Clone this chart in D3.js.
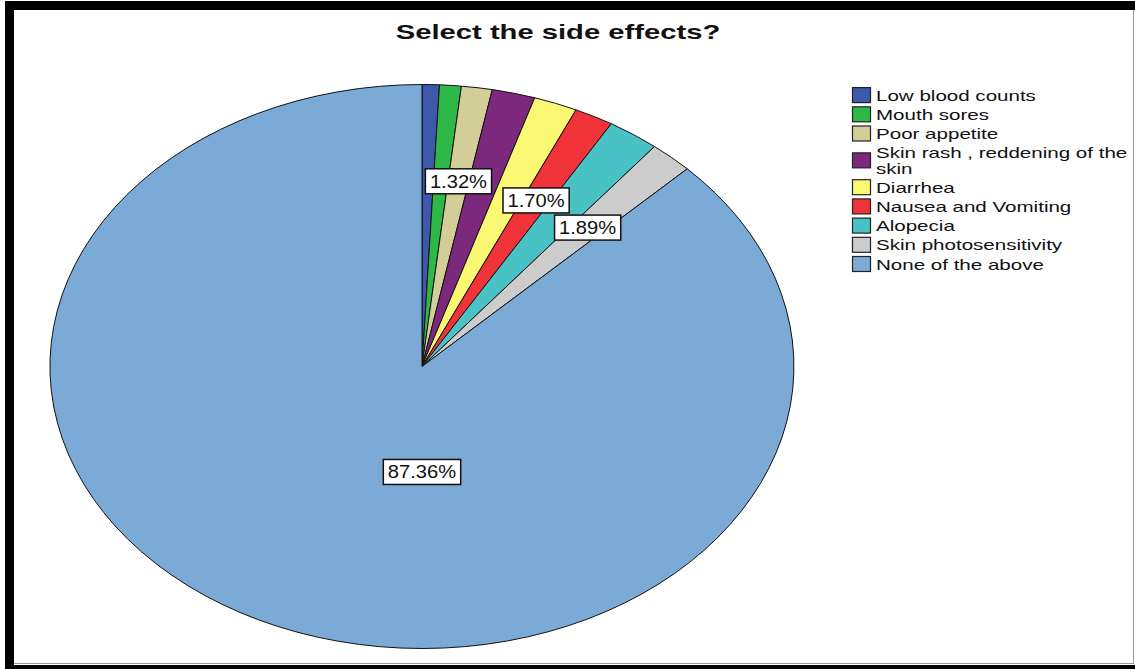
<!DOCTYPE html>
<html>
<head>
<meta charset="utf-8">
<script src="https://cdn.jsdelivr.net/npm/d3@7"></script>
<style>
  html, body { margin: 0; padding: 0; background: #fff; }
  svg { display: block; font-family: "Liberation Sans", Arial, sans-serif; }
</style>
</head>
<body>
<svg id="chart" width="1135" height="669"></svg>
<script>
// Side effects reported by respondents (counts, n = 530)
const categories = [
  "Low blood counts",
  "Mouth sores",
  "Poor appetite",
  "Skin rash , reddening of the skin",
  "Diarrhea",
  "Nausea and Vomiting",
  "Alopecia",
  "Skin photosensitivity",
  "None of the above"
];
const counts = [4, 5, 7, 10, 10, 9, 12, 10, 463];
const sliceColors = ["#3E58AC", "#2EB848", "#D3CE97", "#7C287D", "#FBF873",
                     "#EF3338", "#48C2C5", "#CCCCCC", "#7BAAD6"];
// Slices whose percentage is printed on the pie
const labelledCategories = ["Poor appetite", "Nausea and Vomiting",
                            "Skin photosensitivity", "None of the above"];
const title = "Select the side effects?";

const svg = d3.select("#chart");
const W = 1135, H = 669;

// Window frame
svg.append("rect").attr("x", 5).attr("y", 1).attr("width", W - 5).attr("height", 9).attr("fill", "#000");
svg.append("rect").attr("x", 5).attr("y", 1).attr("width", 9).attr("height", H - 1).attr("fill", "#000");
svg.append("rect").attr("x", 5).attr("y", 665).attr("width", W - 5).attr("height", 4).attr("fill", "#000");
svg.append("line").attr("x1", 14).attr("x2", 1133).attr("y1", 663.5).attr("y2", 663.5)
  .attr("stroke", "#9a9a9a").attr("stroke-width", 1);
svg.append("line").attr("x1", 1133.5).attr("x2", 1133.5).attr("y1", 10).attr("y2", 664)
  .attr("stroke", "#9a9a9a").attr("stroke-width", 1);

// Title (glyphs stretched horizontally like the rest of the chart)
const TEXT_SX = 1.37;
svg.append("text")
  .attr("transform", `translate(558,39) scale(1.46,1)`)
  .attr("text-anchor", "middle")
  .attr("font-size", 20)
  .attr("font-weight", "bold")
  .attr("fill", "#111")
  .text(title);

// Pie, drawn on a unit circle and stretched to an ellipse
const cx = 422, cy = 366.5, rx = 372, ry = 282;
const data = categories.map((c, i) => ({ category: c, count: counts[i], color: sliceColors[i] }));
const total = d3.sum(counts);
const fmt = v => d3.format(".2f")(v) + "%";

const pie = d3.pie().sort(null).value(d => d.count).startAngle(0).endAngle(2 * Math.PI);
const arcs = pie(data);
const arc = d3.arc().innerRadius(0).outerRadius(1);

const pieG = svg.append("g").attr("transform", `translate(${cx},${cy}) scale(${rx},${ry})`);
pieG.selectAll("path")
  .data(arcs)
  .join("path")
  .attr("d", arc)
  .attr("fill", d => d.data.color)
  .attr("stroke", "#111")
  .attr("stroke-width", 1)
  .attr("stroke-linejoin", "round")
  .attr("vector-effect", "non-scaling-stroke");

// Percentage labels
const labelG = svg.append("g");
arcs.filter(d => labelledCategories.includes(d.data.category)).forEach(d => {
  const share = d.data.count / total;
  const big = share > 0.5;
  const mid = big ? Math.PI : (d.startAngle + d.endAngle) / 2;
  const r = big ? 0.374 : 0.664;
  const [ux, uy] = d3.arc().innerRadius(r).outerRadius(r)
    .centroid({ startAngle: mid, endAngle: mid });
  const x = cx + ux * rx, y = cy + uy * ry;
  const g = labelG.append("g");
  const box = g.append("rect");
  const t = g.append("text")
    .attr("transform", `translate(${x},${y + 6.5}) scale(1.12,1)`)
    .attr("text-anchor", "middle")
    .attr("font-size", 18)
    .attr("fill", "#111")
    .text(fmt(share * 100));
  const w = t.node().getComputedTextLength() * 1.12 + 9;
  const h = 25;
  box.attr("x", x - w / 2).attr("y", y - h / 2).attr("width", w).attr("height", h)
    .attr("fill", "#fff").attr("stroke", "#111").attr("stroke-width", 1.5);
});

// Legend
const legX = 852, legTextX = 876, legY0 = 85.5, rowH = 19.2, lineH = 15.3, maxW = 258;
const legG = svg.append("g");
let yTop = legY0;
data.forEach(d => {
  // wrap long names
  const words = d.category.split(" ");
  const lines = [];
  let cur = "";
  const probe = legG.append("text").attr("font-size", 15);
  words.forEach(wd => {
    const test = cur ? cur + " " + wd : wd;
    probe.text(test);
    if (probe.node().getComputedTextLength() * TEXT_SX > maxW && cur) {
      lines.push(cur);
      cur = wd;
    } else {
      cur = test;
    }
  });
  lines.push(cur);
  probe.remove();

  const itemH = rowH + (lines.length - 1) * lineH;
  const center = yTop + itemH / 2;
  legG.append("rect")
    .attr("x", legX + 0.5).attr("y", center - 7.5)
    .attr("width", 18).attr("height", 15)
    .attr("fill", d.color).attr("stroke", "#222").attr("stroke-width", 1.2);
  const firstCenter = yTop + rowH / 2;
  lines.forEach((ln, i) => {
    legG.append("text")
      .attr("transform", `translate(${legTextX},${firstCenter + 5.5 + i * lineH}) scale(${TEXT_SX},1)`)
      .attr("font-size", 15)
      .attr("fill", "#111")
      .text(ln);
  });
  yTop += itemH;
});
</script>
</body>
</html>
